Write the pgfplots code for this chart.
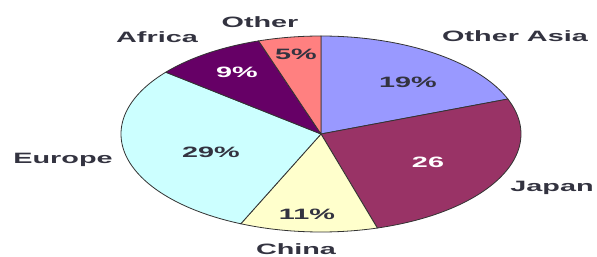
\documentclass[border=0pt]{standalone}
\usepackage{pgfplots}
\usepackage{pgfplotstable}
\usepackage{graphicx}
\usepackage{fontspec}
\setmainfont{Liberation Sans}
\pgfplotsset{compat=1.18}
\definecolor{cOA}{HTML}{9999FF}
\definecolor{cJP}{HTML}{993366}
\definecolor{cCN}{HTML}{FFFFCC}
\definecolor{cEU}{HTML}{CCFFFF}
\definecolor{cAF}{HTML}{660066}
\definecolor{cOT}{HTML}{FF8080}
\definecolor{txt}{HTML}{333340}
\pgfplotstableread{
name value
OtherAsia 19
Japan 26
China 11
Europe 29
Africa 9
Other 5
}\pietable
\pgfplotstablegetelem{0}{value}\of\pietable \edef\vA{\pgfplotsretval}
\pgfplotstablegetelem{1}{value}\of\pietable \edef\vB{\pgfplotsretval}
\pgfplotstablegetelem{2}{value}\of\pietable \edef\vC{\pgfplotsretval}
\pgfplotstablegetelem{3}{value}\of\pietable \edef\vD{\pgfplotsretval}
\pgfplotstablegetelem{4}{value}\of\pietable \edef\vE{\pgfplotsretval}
\pgfplotstablegetelem{5}{value}\of\pietable \edef\vF{\pgfplotsretval}
\pgfmathsetmacro\tot{\vA+\vB+\vC+\vD+\vE+\vF}
\pgfmathsetmacro\aZ{90}
\pgfmathsetmacro\aA{\aZ-\vA*360/\tot}
\pgfmathsetmacro\aB{\aA-\vB*360/\tot}
\pgfmathsetmacro\aC{\aB-\vC*360/\tot}
\pgfmathsetmacro\aD{\aC-\vD*360/\tot}
\pgfmathsetmacro\aE{\aD-\vE*360/\tot}
\pgfmathsetmacro\aF{\aE-\vF*360/\tot}
\newcommand\lbl[1]{\scalebox{1.92}[1]{#1}}
\begin{document}
\begin{tikzpicture}
\begin{axis}[
  scale only axis, width=597bp, height=257bp,
  xmin=0, xmax=597, ymin=0, ymax=257,
  hide axis, clip=false,
  every axis plot/.append style={draw=black!80, line width=0.8bp, samples=80, variable=\t, no markers},
]
\path (axis cs:0,0) rectangle (axis cs:597,257);
\addplot[fill=cOA, domain=\aA:\aZ] ({321+200*cos(\t)},{123+98*sin(\t)}) -- (axis cs:321,123) -- cycle;
\addplot[fill=cJP, domain=\aB:\aA] ({321+200*cos(\t)},{123+98*sin(\t)}) -- (axis cs:321,123) -- cycle;
\addplot[fill=cCN, domain=\aC:\aB] ({321+200*cos(\t)},{123+98*sin(\t)}) -- (axis cs:321,123) -- cycle;
\addplot[fill=cEU, domain=\aD:\aC] ({321+200*cos(\t)},{123+98*sin(\t)}) -- (axis cs:321,123) -- cycle;
\addplot[fill=cAF, domain=\aE:\aD] ({321+200*cos(\t)},{123+98*sin(\t)}) -- (axis cs:321,123) -- cycle;
\addplot[fill=cOT, domain=\aF:\aE] ({321+200*cos(\t)},{123+98*sin(\t)}) -- (axis cs:321,123) -- cycle;
\begin{scope}[every node/.style={anchor=base, inner sep=0pt, font=\fontsize{15bp}{18bp}\selectfont\bfseries, text=txt}]
\node at (axis cs:260,229) {\lbl{Other}};
\node at (axis cs:157,214) {\lbl{Africa}};
\node at (axis cs:515,215) {\lbl{Other Asia}};
\node at (axis cs:63,93) {\lbl{Europe}};
\node at (axis cs:552,65) {\lbl{Japan}};
\node at (axis cs:296,3) {\lbl{China}};
\node at (axis cs:296,197) {\lbl{5\%}};
\node[text=white] at (axis cs:237,179) {\lbl{9\%}};
\node at (axis cs:408,169) {\lbl{19\%}};
\node[text=white] at (axis cs:428,89) {\lbl{26}};
\node at (axis cs:307,37) {\lbl{11\%}};
\node at (axis cs:211,99) {\lbl{29\%}};
\end{scope}
\end{axis}
\end{tikzpicture}
\end{document}
